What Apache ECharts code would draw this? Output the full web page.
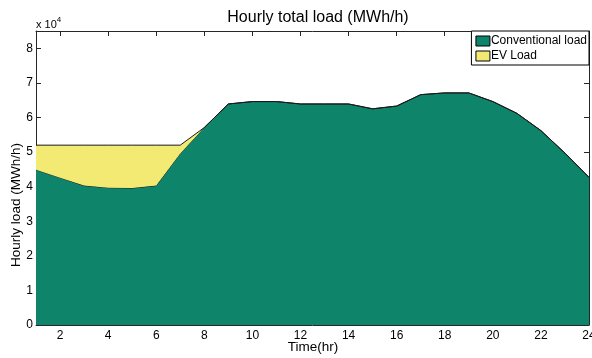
<!DOCTYPE html>
<html>
<head>
<meta charset="utf-8">
<script src="https://cdn.jsdelivr.net/npm/echarts@6/dist/echarts.min.js"></script>
<style>html,body{margin:0;padding:0;background:#fff}#c{width:592px;height:358px}</style>
</head>
<body>
<div id="c"></div>
<script>
var hours = ['1','2','3','4','5','6','7','8','9','10','11','12','13','14','15','16','17','18','19','20','21','22','23','24'];
var conventional = [44900,42600,40300,39700,39600,40300,49600,57100,63900,64600,64600,63900,63900,63900,62500,63300,66600,67100,67100,64600,61200,56200,49700,42700];
var evLoad = [7100,9400,11700,12300,12400,11700,2400,0,0,0,0,0,0,0,0,0,0,0,0,0,0,0,0,0];
var yTicks = [0,10000,20000,30000,40000,50000,60000,70000,80000];
var seriesNames = ['Conventional load','EV Load'];

var FONT = 'Liberation Sans, Arial, sans-serif';
var AX = '#262626';
function evenHour(idx){ return idx % 2 === 1; }

var chart = echarts.init(document.getElementById('c'), null, {renderer:'canvas'});
chart.setOption({
  animation:false,
  backgroundColor:'#fff',
  textStyle:{fontFamily:FONT},
  title:{text:'Hourly total load (MWh/h)', left:313, textAlign:'center', top:5,
    textStyle:{fontSize:16, fontWeight:'normal', color:'#000', fontFamily:FONT}},
  grid:{left:36, right:3, top:31, bottom:33, containLabel:false, outerBoundsMode:'none'},
  legend:{
    data:seriesNames, orient:'vertical', right:3, top:31, icon:'rect',
    itemWidth:14, itemHeight:10, itemGap:3,
    backgroundColor:'#fff', borderColor:'#000', borderWidth:1, padding:[4,2,3,4],
    textStyle:{fontSize:12, color:'#000', fontFamily:FONT, padding:[0,0,0,-4]},
    itemStyle:{borderColor:'#000', borderWidth:1}
  },
  xAxis:[
    {type:'category', data:hours, boundaryGap:false, position:'bottom',
     axisLine:{show:true, onZero:false, lineStyle:{color:AX, width:1}},
     axisTick:{show:true, inside:true, length:5, interval:evenHour, lineStyle:{color:AX}},
     axisLabel:{interval:evenHour, margin:5, fontSize:12, color:'#000', showMaxLabel:true, hideOverlap:false},
     splitLine:{show:false}},
    {type:'category', data:hours, boundaryGap:false, position:'top',
     axisLine:{show:true, onZero:false, lineStyle:{color:AX, width:1}},
     axisTick:{show:true, inside:true, length:5, interval:evenHour, lineStyle:{color:AX}},
     axisLabel:{show:false}, splitLine:{show:false}}
  ],
  yAxis:[
    {type:'value', min:0, max:85000, position:'left',
     axisLine:{show:true, onZero:false, lineStyle:{color:AX, width:1}},
     axisTick:{show:true, inside:true, length:5, customValues:yTicks, lineStyle:{color:AX}},
     axisLabel:{customValues:yTicks, margin:3, fontSize:12, color:'#000',
       formatter:function(v){ return String(v/10000); }},
     splitLine:{show:false}},
    {type:'value', min:0, max:85000, position:'right',
     axisLine:{show:true, onZero:false, lineStyle:{color:AX, width:1}},
     axisTick:{show:true, inside:true, length:5, customValues:yTicks, lineStyle:{color:AX}},
     axisLabel:{show:false}, splitLine:{show:false}}
  ],
  graphic:[
    {type:'text', left:36, top:16, style:{
      text:'{a|x 10}{b|4}', fill:'#000',
      rich:{a:{fontSize:11, fontFamily:FONT, fill:'#000', verticalAlign:'bottom'},
            b:{fontSize:8, fontFamily:FONT, fill:'#000', verticalAlign:'top', padding:[0,0,6,0]}}}},
    {type:'text', x:16, y:205, rotation:Math.PI/2, style:{
      text:'Hourly load (MWh/h)', fontSize:13.5, fontFamily:FONT, fill:'#000',
      align:'center', verticalAlign:'middle'}},
    {type:'text', x:313, y:347, style:{
      text:'Time(hr)', fontSize:13.5, fontFamily:FONT, fill:'#000',
      align:'center', verticalAlign:'middle'}}
  ],
  series:[
    {name:seriesNames[0], type:'line', stack:'load', data:conventional,
     xAxisIndex:0, yAxisIndex:0, symbol:'none', color:'#0e846b',
     itemStyle:{color:'#0e846b'},
     lineStyle:{color:'#1a1a1a', width:1},
     areaStyle:{color:'#0e846b', opacity:1}, z:2},
    {name:seriesNames[1], type:'line', stack:'load', data:evLoad,
     xAxisIndex:0, yAxisIndex:0, symbol:'none', color:'#f3ea73',
     itemStyle:{color:'#f3ea73'},
     lineStyle:{color:'#1a1a1a', width:1},
     areaStyle:{color:'#f3ea73', opacity:1}, z:3}
  ]
});
</script>
</body>
</html>
